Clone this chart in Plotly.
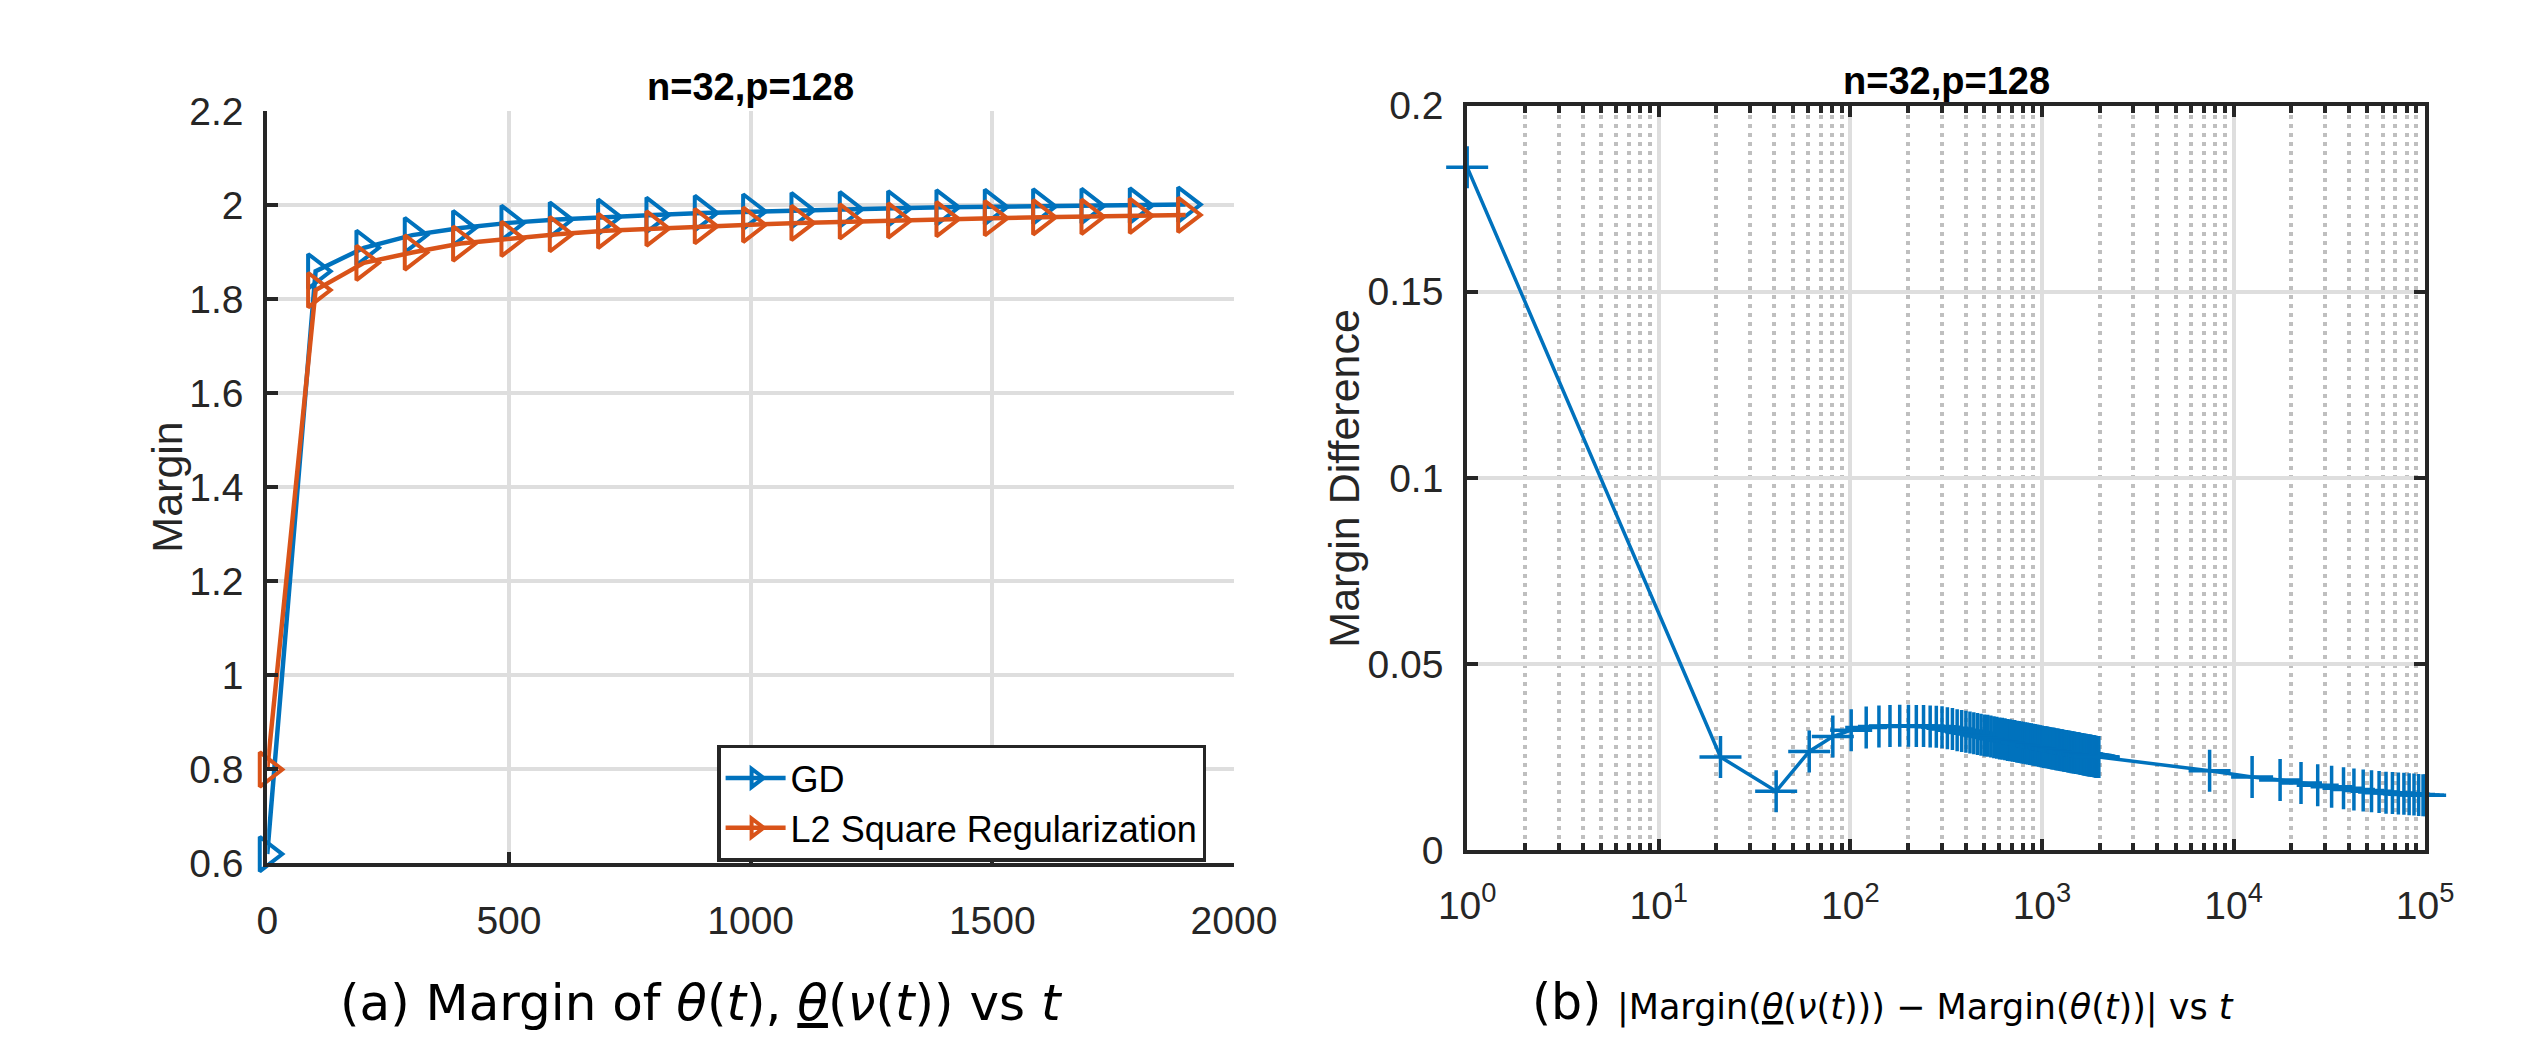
import plotly.graph_objects as go

W, H = 2533, 1053

# ---------------- data: panel (a) ----------------
t_a = [0, 100, 200, 300, 400, 500, 600, 700, 800, 900,
       1000, 1100, 1200, 1300, 1400, 1500, 1600, 1700, 1800, 1900]
margin_gd = [0.62, 1.86, 1.91, 1.937, 1.952, 1.963, 1.970, 1.976, 1.980, 1.984,
             1.987, 1.990, 1.992, 1.994, 1.996, 1.997, 1.998, 1.999, 2.000, 2.002]
margin_l2 = [0.80, 1.82, 1.878, 1.900, 1.919, 1.929, 1.939, 1.946, 1.951, 1.956,
             1.959, 1.963, 1.966, 1.968, 1.971, 1.973, 1.975, 1.976, 1.978, 1.980]

# ---------------- data: panel (b) ----------------
t_b = [1, 21, 41, 61, 81, 101, 121, 141, 161, 181,
       201, 221, 241, 261, 281, 301, 321, 341, 361, 381,
       401, 421, 441, 461, 481, 501, 521, 541, 561, 581,
       601, 621, 641, 661, 681, 701, 721, 741, 761, 781,
       801, 821, 841, 861, 881, 901, 921, 941, 961, 981,
       1001, 1021, 1041, 1061, 1081, 1101, 1121, 1141, 1161, 1181,
       1201, 1221, 1241, 1261, 1281, 1301, 1321, 1341, 1361, 1381,
       1401, 1421, 1441, 1461, 1481, 1501, 1521, 1541, 1561, 1581,
       1601, 1621, 1641, 1661, 1681, 1701, 1721, 1741, 1761, 1781,
       1801, 1821, 1841, 1861, 1881, 1901, 1921, 1941, 1961, 1981,
       7500, 12500, 17500, 22500, 27500, 32500, 37500, 42500, 47500, 52500,
       57500, 62500, 67500, 72500, 77500, 82500, 87500, 92500, 97500, 100000]
diff_b = [0.1835, 0.0250, 0.0158, 0.0265, 0.0305, 0.0322, 0.0329, 0.0332, 0.0333, 0.0334,
          0.0334, 0.0333, 0.0333, 0.0332, 0.0331, 0.0330, 0.0327, 0.0325, 0.0322, 0.0320,
          0.0318, 0.0316, 0.0314, 0.0312, 0.0310, 0.0308, 0.0307, 0.0305, 0.0303, 0.0302,
          0.0300, 0.0299, 0.0298, 0.0296, 0.0295, 0.0294, 0.0293, 0.0291, 0.0290, 0.0289,
          0.0288, 0.0287, 0.0286, 0.0285, 0.0284, 0.0283, 0.0282, 0.0281, 0.0280, 0.0279,
          0.0278, 0.0277, 0.0276, 0.0276, 0.0275, 0.0274, 0.0273, 0.0273, 0.0272, 0.0271,
          0.0270, 0.0270, 0.0269, 0.0268, 0.0268, 0.0267, 0.0266, 0.0266, 0.0265, 0.0265,
          0.0264, 0.0263, 0.0263, 0.0262, 0.0262, 0.0261, 0.0261, 0.0260, 0.0260, 0.0259,
          0.0258, 0.0258, 0.0257, 0.0257, 0.0256, 0.0256, 0.0255, 0.0255, 0.0254, 0.0254,
          0.0254, 0.0253, 0.0253, 0.0252, 0.0252, 0.0251, 0.0251, 0.0250, 0.0250, 0.0250,
          0.0213, 0.0196, 0.0188, 0.0180, 0.0174, 0.0170, 0.0166, 0.0163, 0.0160, 0.0158,
          0.0156, 0.0154, 0.0153, 0.0152, 0.0151, 0.0150, 0.0149, 0.0148, 0.0147, 0.0147]

x_ticks_b = [1, 10, 100, 1000, 10000, 100000]
x_ticktext_b = ["10<sup>0</sup>", "10<sup>1</sup>", "10<sup>2</sup>",
                "10<sup>3</sup>", "10<sup>4</sup>", "10<sup>5</sup>"]

BLUE = "#0072BD"
ORANGE = "#D95319"
AX = "#262626"
GRID = "#dedede"
FONT = "Liberation Sans, Arial, Helvetica, sans-serif"
CAPFONT = "DejaVu Sans, sans-serif"

def px_x(p):
    return p / W

def px_y(p):
    return 1 - p / H

fig = go.Figure()

fig.add_trace(go.Scatter(
    x=t_a, y=margin_gd, name="GD", mode="lines+markers",
    line=dict(color=BLUE, width=4.5),
    marker=dict(symbol="triangle-right-open", size=30, color=BLUE, line=dict(width=4, color=BLUE)),
    cliponaxis=False, xaxis="x", yaxis="y"))
fig.add_trace(go.Scatter(
    x=t_a, y=margin_l2, name="L2 Square Regularization", mode="lines+markers",
    line=dict(color=ORANGE, width=4.5),
    marker=dict(symbol="triangle-right-open", size=30, color=ORANGE, line=dict(width=4, color=ORANGE)),
    cliponaxis=False, xaxis="x", yaxis="y"))
fig.add_trace(go.Scatter(
    x=t_b, y=diff_b, mode="lines+markers", showlegend=False,
    line=dict(color=BLUE, width=3.5),
    marker=dict(symbol="cross-thin-open", size=30, color=BLUE, line=dict(width=3.5, color=BLUE)),
    cliponaxis=False, xaxis="x2", yaxis="y2"))

tickfont = dict(family=FONT, size=39, color=AX)

common = dict(showline=True, linecolor=AX, linewidth=4, ticks="inside", tickcolor=AX,
              tickwidth=4, ticklen=11, showgrid=True, gridcolor=GRID, gridwidth=4,
              zeroline=False, tickfont=tickfont)

fig.update_layout(
    width=W, height=H, margin=dict(l=0, r=0, t=0, b=0),
    paper_bgcolor="white", plot_bgcolor="white",
    font=dict(family=FONT, color=AX),
    xaxis=dict(domain=[px_x(237), px_x(1232)], range=[0, 2000], dtick=500, anchor="y",
               ticklabelstandoff=20, **common),
    yaxis=dict(domain=[px_y(870), px_y(86)], range=[0.6, 2.2], dtick=0.2, anchor="x",
               ticklabelstandoff=12, **common),
    xaxis2=dict(domain=[px_x(1472), px_x(2458)], type="log", range=[0, 5],
                tickvals=x_ticks_b, ticktext=x_ticktext_b, anchor="y2", mirror="ticks",
                ticklabelstandoff=18,
                minor=dict(dtick="D1", ticks="inside", ticklen=7, tickwidth=3.5, tickcolor=AX,
                           showgrid=True, gridcolor="#bfbfbf", gridwidth=3.5, griddash="4px,5px"),
                **common),
    yaxis2=dict(domain=[px_y(856), px_y(80)], range=[0, 0.2], dtick=0.05, anchor="x2",
                mirror="ticks", ticklabelstandoff=12, **common),
    legend=dict(x=px_x(700), y=px_y(746), xanchor="left", yanchor="top",
                bgcolor="white", bordercolor=AX, borderwidth=3.5,
                font=dict(family=FONT, size=36, color="#000000"), itemwidth=60,
                tracegroupgap=0),
    showlegend=True,
)

annotations = [
    dict(text="<b>n=32,p=128</b>", x=px_x(734), y=px_y(60), xref="paper", yref="paper",
         showarrow=False, xanchor="center", yanchor="middle",
         font=dict(family=FONT, size=38, color="#000000")),
    dict(text="<b>n=32,p=128</b>", x=px_x(1965), y=px_y(54), xref="paper", yref="paper",
         showarrow=False, xanchor="center", yanchor="middle",
         font=dict(family=FONT, size=38, color="#000000")),
    dict(text="Margin", x=px_x(134), y=px_y(478), xref="paper", yref="paper",
         showarrow=False, xanchor="center", yanchor="middle", textangle=-90,
         font=dict(family=FONT, size=43, color=AX)),
    dict(text="Margin Difference", x=px_x(1345), y=px_y(468), xref="paper", yref="paper",
         showarrow=False, xanchor="center", yanchor="middle", textangle=-90,
         font=dict(family=FONT, size=43, color=AX)),
    dict(text="(a) Margin of <i>θ</i>(<i>t</i>), <u><i>θ</i></u>(<i>ν</i>(<i>t</i>)) vs <i>t</i>",
         x=px_x(684), y=px_y(1015), xref="paper", yref="paper", showarrow=False,
         xanchor="center", yanchor="middle",
         font=dict(family=CAPFONT, size=50, color="#000000")),
    dict(text="(b) <span style='font-size:35px'>|Margin(<u><i>θ</i></u>(<i>ν</i>(<i>t</i>))) − Margin(<i>θ</i>(<i>t</i>))| vs <i>t</i></span>",
         x=px_x(1900), y=px_y(1015), xref="paper", yref="paper", showarrow=False,
         xanchor="center", yanchor="middle",
         font=dict(family=CAPFONT, size=49, color="#000000")),
]
fig.update_layout(annotations=annotations)

fig.write_html("out.html")
